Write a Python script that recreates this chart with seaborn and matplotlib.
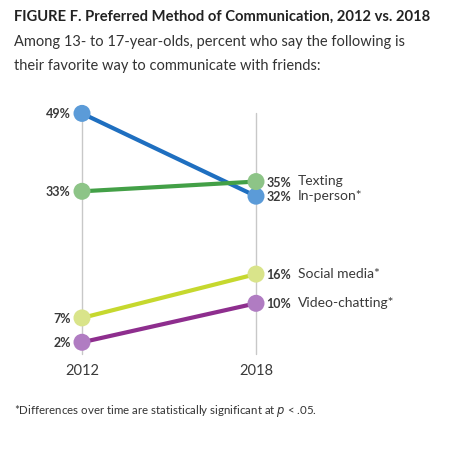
import pandas as pd
import matplotlib
matplotlib.use("Agg")
import matplotlib.pyplot as plt
import seaborn as sns

# data
years = ["2012", "2018"]
methods = ["In-person", "Texting", "Social media", "Video-chatting"]
pct_2012 = [49, 33, 7, 2]
pct_2018 = [32, 35, 16, 10]
end_labels = ["In-person*", "Texting", "Social media*", "Video-chatting*"]

line_colors = ["#1f6fc0", "#43a047", "#c6d82e", "#8e2e8e"]
dot_colors = ["#5b9bd8", "#8dc487", "#d9e48a", "#b07cc2"]

rows = []
for m, a, b in zip(methods, pct_2012, pct_2018):
    rows.append({"method": m, "year": 0, "pct": a})
    rows.append({"method": m, "year": 1, "pct": b})
df = pd.DataFrame(rows)

sns.set_style("white")
plt.rcParams["font.family"] = ["Lato", "DejaVu Sans"]

fig = plt.figure(figsize=(4.6, 4.6), dpi=100)
ax = fig.add_axes([0, 0, 1, 1])
ax.set_xlim(-0.4713, 2.1724)
ax.set_ylim(-21.97, 72.49)
ax.axis("off")

# vertical guides
for x in [0, 1]:
    ax.plot([x, x], [-0.5, 49], color="#c8c8c8", lw=1, zorder=1)

sns.lineplot(data=df, x="year", y="pct", hue="method", hue_order=methods,
             palette=line_colors, lw=3, legend=False, ax=ax, zorder=2)
sns.scatterplot(data=df, x="year", y="pct", hue="method", hue_order=methods,
                palette=dot_colors, s=150, edgecolor="none", legend=False,
                ax=ax, zorder=3)

# value labels
for v in pct_2012:
    ax.text(-0.065, v, f"{v}%", ha="right", va="center", fontsize=9,
            fontweight="bold", color="#3a3a3a")
for v, lab in zip(pct_2018, end_labels):
    ax.text(1.06, v, f"{v}%", ha="left", va="center", fontsize=9,
            fontweight="bold", color="#3a3a3a")
    ax.text(1.24, v + 0.3, lab, ha="left", va="center", fontsize=10,
            color="#3a3a3a")

for i, y in enumerate(years):
    ax.text(i, -3.6, y, ha="center", va="center", fontsize=10.5, color="#3a3a3a")

fig.text(14 / 460, 1 - 17 / 460, "FIGURE F. Preferred Method of Communication, 2012 vs. 2018",
         ha="left", va="center", fontsize=10.6, fontweight="bold", color="#222222")
fig.text(14 / 460, 1 - 42 / 460, "Among 13- to 17-year-olds, percent who say the following is",
         ha="left", va="center", fontsize=10.5, color="#333333")
fig.text(14 / 460, 1 - 66 / 460, "their favorite way to communicate with friends:",
         ha="left", va="center", fontsize=10.5, color="#333333")
fig.text(14 / 460, 1 - 411 / 460, "*Differences over time are statistically significant at $p$ < .05.",
         ha="left", va="center", fontsize=8.3, color="#333333")

fig.savefig("out.png", dpi=100)
